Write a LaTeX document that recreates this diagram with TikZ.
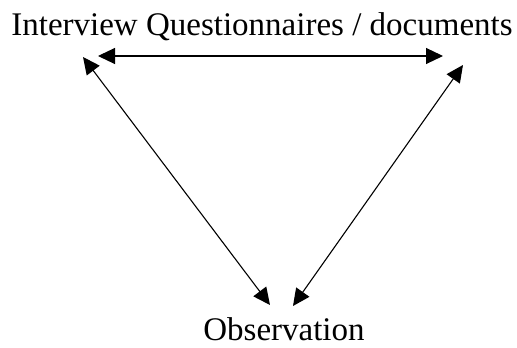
\documentclass[tikz,border=0pt]{standalone}
\usepackage{fontspec}
\setmainfont{Liberation Serif}
\usetikzlibrary{arrows.meta}
\begin{document}
\begin{tikzpicture}[x=1pt, y=1pt, thick,
    label/.style={inner sep=0pt, anchor=base, font=\fontsize{33}{36}\selectfont},
    link/.style={line width=1.1pt, {Triangle[length=17pt,width=16pt]}-{Triangle[length=17pt,width=16pt]}}]
  \useasboundingbox (0,0) rectangle (517,348);
  % Nodos
  \node[label] (intv) at (262,312) {Interview Questionnaires / documents};
  \node[label] (obs) at (284,7) {Observation};

  % Extremos
  \coordinate (tl) at (98,292);
  \coordinate (tr) at (443,292);
  \coordinate (dl) at (83,291);
  \coordinate (dlb) at (270,43);
  \coordinate (dr) at (463,283);
  \coordinate (drb) at (293,42);

  % Flechas
  \draw[link] (tl) -- (tr);
  \draw[link] (dl) -- (dlb);
  \draw[link] (dr) -- (drb);
\end{tikzpicture}
\end{document}
